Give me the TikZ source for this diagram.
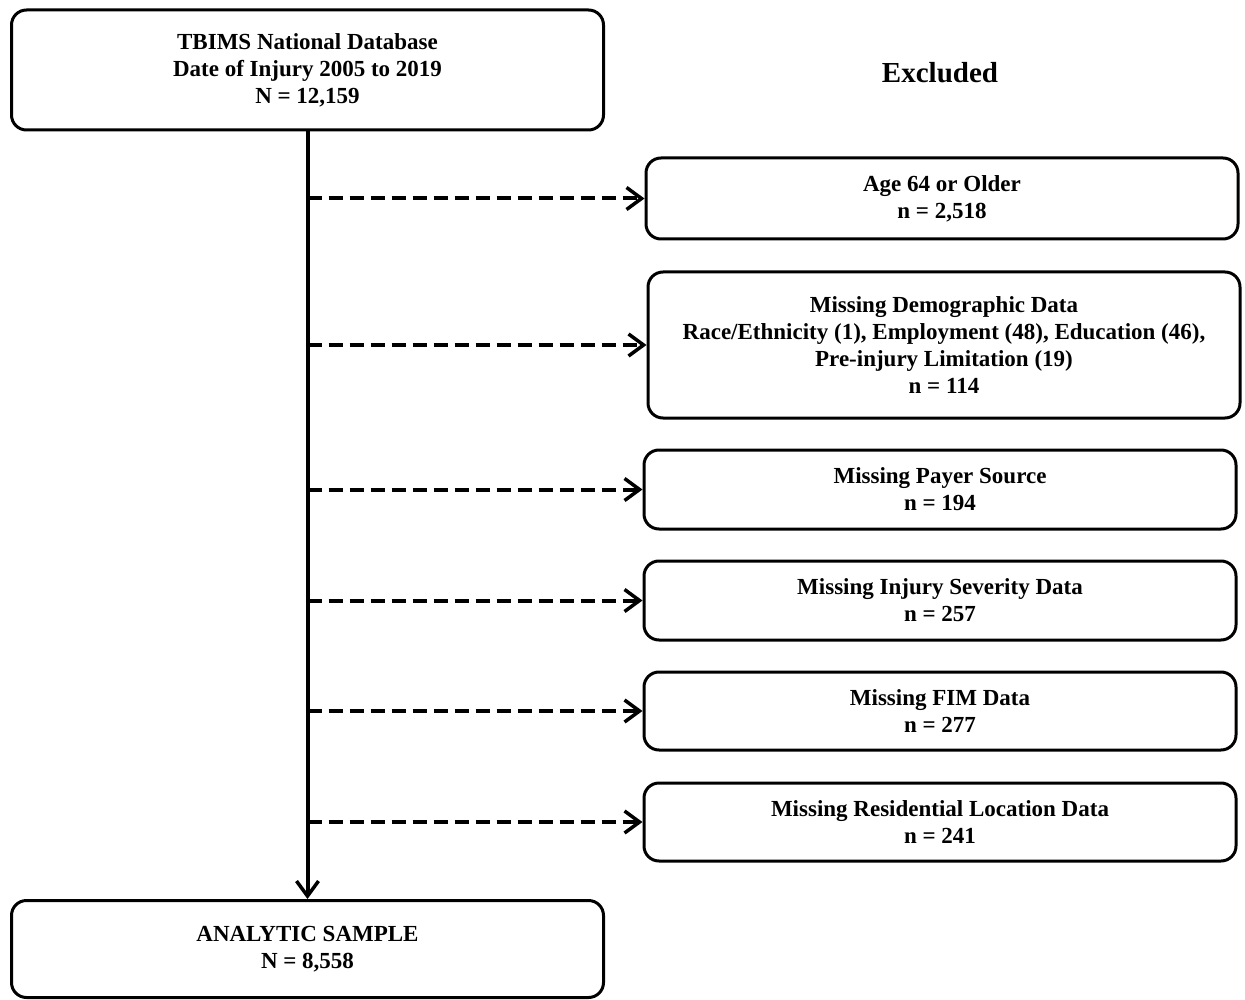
\documentclass[tikz,border=0pt]{standalone}
\usepackage{fontspec}
\setmainfont{Liberation Serif}
\usetikzlibrary{arrows.meta}
\begin{document}
\begin{tikzpicture}[x=1pt,y=-1pt,
  box/.style={draw=black, line width=3pt, rounded corners=15pt, minimum width=592pt,
    align=center, inner sep=0pt, font=\bfseries\fontsize{23}{27}\selectfont},
  heading/.style={inner sep=0pt, font=\bfseries\fontsize{29}{34}\selectfont},
  flow/.style={line width=4pt, -{Straight Barb[length=15pt,width=22pt,line width=3.5pt]}},
  skip/.style={flow, dash pattern=on 14pt off 7pt}]
\useasboundingbox[fill=white] (0,0) rectangle (1245,1000);

\node[box, minimum height=120pt] (top) at (307.5,70)
  {TBIMS National Database\\Date of Injury 2005 to 2019\\N = 12,159};
\node[heading] (exc) at (940,73) {Excluded};

\node[box, minimum height=81pt] (e1) at (942,198.5) {Age 64 or Older\\n = 2,518};
\node[box, minimum height=146pt] (e2) at (944,345)
  {Missing Demographic Data\\Race/Ethnicity (1), Employment (48), Education (46),\\Pre-injury Limitation (19)\\n = 114};
\node[box, minimum height=79pt] (e3) at (940,489.5) {Missing Payer Source\\n = 194};
\node[box, minimum height=79pt] (e4) at (940,600.5) {Missing Injury Severity Data\\n = 257};
\node[box, minimum height=78pt] (e5) at (940,711) {Missing FIM Data\\n = 277};
\node[box, minimum height=78pt] (e6) at (940,822) {Missing Residential Location Data\\n = 241};

\node[box, minimum height=97pt] (bot) at (307.5,949) {ANALYTIC SAMPLE\\N = 8,558};

\draw[flow] (top.south) -- (bot.north);
\foreach \e in {e1,e2,e3,e4,e5,e6}
  \draw[skip] (top.south |- \e.west) -- (\e.west);
\end{tikzpicture}
\end{document}
